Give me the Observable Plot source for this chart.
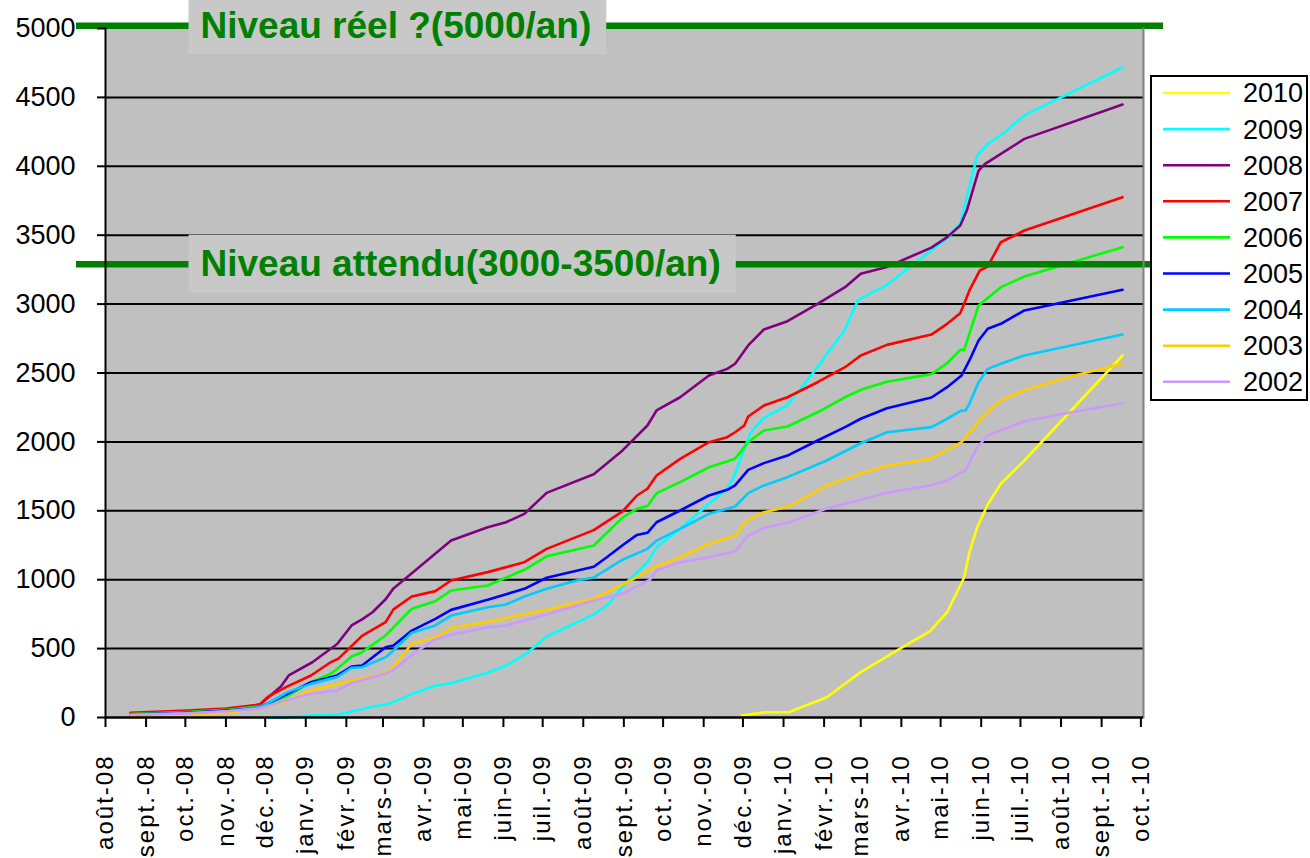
<!DOCTYPE html>
<html><head><meta charset="utf-8">
<script src="https://cdn.jsdelivr.net/npm/d3@7"></script>
<script src="https://cdn.jsdelivr.net/npm/@observablehq/plot@0.6"></script>
<style>
body{margin:0;background:#fff;font-family:"Liberation Sans",Arial,sans-serif;}
#wrap{position:relative;width:1310px;height:858px;overflow:hidden;}
#legend{position:absolute;left:1150px;top:75px;width:158px;height:326px;border:2px solid #000;box-sizing:border-box;background:#fff;}
</style></head><body><div id="wrap"><div id="legend"></div></div>
<script>
// ---- data ----
const startDate = new Date(Date.UTC(2008, 7, 1));   // day 0 of the series' day offsets
const endDate = new Date(Date.UTC(2010, 9, 3));
const years = ["2010","2009","2008","2007","2006","2005","2004","2003","2002"];
const colors = ["#ffff00","#00ffff","#800080","#ff0000","#00ff00","#0000ff","#00ccff","#ffcc00","#cc99ff"];
const monthLabels = ["août-08","sept.-08","oct.-08","nov.-08","déc.-08","janv.-09","févr.-09","mars-09","avr.-09","mai-09","juin-09","juil.-09","août-09","sept.-09","oct.-09","nov.-09","déc.-09","janv.-10","févr.-10","mars-10","avr.-10","mai-10","juin-10","juil.-10","août-10","sept.-10","oct.-10"];
const yTicks = [0,500,1000,1500,2000,2500,3000,3500,4000,4500,5000];
const gridValues = [500,1000,1500,2000,2500,3000,3500,4000,4500];
const levelValues = [5020, 3290];
const levelLabels = ["Niveau réel ?(5000/an)", "Niveau attendu(3000-3500/an)"];

// [days since 2008-08-01, cumulative value]
const s2010 = [[486,15],[504,38],[522,38],[551,147],[577,329],[607,499],[630,626],[643,764],[653,958],[656,1018],[660,1200],[666,1381],[674,1546],[684,1696],[702,1865],[777,2627]];
const s2009 = [[124,0],[136,0],[157,15],[177,20],[187,40],[202,75],[218,104],[234,170],[252,230],[264,249],[292,325],[306,377],[322,467],[337,588],[373,747],[384,820],[395,951],[401,1007],[414,1127],[421,1236],[439,1369],[461,1551],[475,1660],[480,1744],[488,1950],[493,2070],[503,2174],[521,2264],[541,2506],[565,2816],[575,3031],[597,3140],[631,3390],[644,3486],[653,3582],[658,3776],[666,4078],[674,4163],[684,4224],[702,4369],[777,4719]];
const s2008 = [[19,22],[62,35],[92,50],[118,95],[134,225],[140,305],[158,401],[177,533],[188,668],[196,712],[204,764],[214,858],[220,937],[234,1047],[264,1284],[292,1381],[306,1417],[320,1478],[337,1630],[373,1765],[395,1938],[414,2119],[421,2228],[439,2324],[461,2482],[475,2530],[481,2567],[491,2700],[503,2816],[521,2876],[544,3002],[565,3123],[577,3220],[597,3270],[631,3410],[643,3486],[653,3570],[658,3679],[667,3969],[672,4018],[702,4199],[777,4448]];
const s2007 = [[19,34],[62,50],[92,65],[118,94],[124,150],[139,226],[157,305],[172,401],[178,427],[196,592],[214,692],[220,785],[234,878],[252,917],[264,994],[292,1055],[320,1127],[337,1224],[373,1360],[395,1496],[406,1611],[414,1660],[421,1756],[439,1877],[461,1998],[475,2034],[481,2070],[488,2119],[491,2184],[503,2264],[521,2324],[544,2433],[565,2542],[577,2627],[597,2704],[631,2779],[643,2857],[653,2934],[657,3026],[660,3099],[668,3244],[674,3273],[684,3449],[702,3534],[777,3776]];
const s2006 = [[19,25],[62,40],[92,55],[118,80],[124,100],[139,155],[157,256],[172,317],[178,361],[188,443],[196,474],[214,595],[234,789],[252,844],[264,922],[292,958],[320,1072],[337,1170],[373,1248],[395,1450],[406,1514],[414,1535],[421,1628],[439,1708],[461,1816],[481,1877],[488,1962],[491,1998],[503,2083],[521,2112],[544,2215],[565,2324],[577,2378],[597,2436],[631,2492],[643,2571],[653,2668],[656,2668],[667,2990],[684,3123],[702,3200],[777,3413]];
const s2005 = [[19,22],[62,35],[92,50],[111,63],[121,87],[139,172],[157,256],[177,305],[188,370],[196,377],[214,510],[220,522],[234,631],[252,716],[264,781],[292,854],[320,934],[337,1014],[373,1094],[383,1163],[395,1250],[406,1325],[414,1340],[421,1417],[439,1502],[461,1611],[475,1652],[481,1684],[491,1797],[503,1846],[521,1901],[544,2010],[565,2107],[577,2168],[597,2244],[631,2322],[643,2397],[654,2482],[660,2591],[667,2736],[674,2821],[684,2857],[702,2954],[777,3104]];
const s2004 = [[19,18],[62,30],[92,45],[111,63],[121,87],[139,184],[157,244],[177,293],[188,361],[196,365],[214,438],[220,486],[234,615],[252,668],[264,740],[292,800],[306,820],[320,878],[337,934],[360,994],[373,1016],[395,1145],[414,1224],[421,1284],[439,1369],[461,1478],[481,1531],[491,1628],[503,1684],[521,1744],[551,1865],[577,1990],[597,2070],[631,2107],[643,2168],[654,2228],[657,2228],[660,2276],[667,2433],[674,2530],[684,2567],[702,2627],[777,2779]];
const s2003 = [[19,0],[62,15],[92,35],[118,63],[138,120],[157,196],[177,239],[187,265],[208,305],[219,346],[220,365],[234,537],[252,580],[265,653],[292,692],[306,722],[337,781],[373,861],[401,994],[421,1096],[439,1163],[461,1261],[481,1321],[490,1430],[503,1490],[522,1531],[551,1684],[577,1769],[596,1825],[630,1877],[654,1998],[671,2191],[684,2300],[702,2375],[737,2475],[777,2567]];
const s2002 = [[19,20],[62,30],[92,45],[118,63],[135,118],[157,172],[177,196],[188,250],[214,317],[220,346],[236,468],[251,562],[264,600],[292,655],[306,668],[337,747],[373,849],[395,898],[406,951],[416,1000],[421,1067],[439,1127],[461,1163],[481,1207],[491,1321],[503,1375],[522,1417],[551,1516],[577,1581],[596,1630],[630,1684],[643,1720],[654,1780],[657,1792],[666,1962],[674,2046],[702,2150],[732,2204],[777,2281]];

const seriesList = [s2010,s2009,s2008,s2007,s2006,s2005,s2004,s2003,s2002];
const rows = seriesList.flatMap((s, k) => s.map(([d, v]) => ({year: years[k], date: d3.utcDay.offset(startDate, d), value: v})));

const monthTicks = d3.utcMonth.range(startDate, d3.utcDay.offset(endDate, 1));
const labelByTime = new Map(monthTicks.map((d, i) => [+d, monthLabels[i]]));
const levels = levelValues.map((v, i) => ({value: v, label: levelLabels[i]}));

const chart = Plot.plot({
  width: 1310, height: 858,
  marginLeft: 105, marginRight: 167, marginTop: 28, marginBottom: 141,
  style: {fontFamily: '"Liberation Sans", Arial, sans-serif', background: "#fff", color: "#000"},
  x: {type: "utc", domain: [startDate, endDate], label: null},
  y: {domain: [0, 5000], label: null},
  color: {domain: years, range: colors},
  marks: [
    Plot.frame({fill: "#c0c0c0", stroke: null}),
    Plot.ruleY(gridValues, {stroke: "#000", strokeWidth: 2}),
    Plot.line(rows, {x: "date", y: "value", z: "year", stroke: "year", strokeWidth: 2.6}),
    Plot.ruleY(levels, {y: "value", stroke: "#008000", strokeWidth: 6.5, insetLeft: -29, insetRight: -20}),
    Plot.text(levels, {y: "value", text: "label", frameAnchor: "left", dx: 95, textAnchor: "start", fontSize: 37, fontWeight: "bold", fill: "#008000", className: "lvl"}),
    Plot.frame({anchor: "right", stroke: "#808080", strokeWidth: 2}),
    Plot.frame({anchor: "left", stroke: "#000", strokeWidth: 2}),
    Plot.ruleY([0], {stroke: "#000", strokeWidth: 2.5}),
    Plot.axisY({ticks: yTicks, tickSize: 8, tickPadding: 22, fontSize: 27, tickFormat: d => String(d), strokeWidth: 2}),
    Plot.axisX({ticks: monthTicks, tickFormat: d => labelByTime.get(+d), tickRotate: -90, tickSize: 10, tickPadding: 27, fontSize: 24, strokeWidth: 2})
  ]
});
document.getElementById("wrap").prepend(chart);

// grey label boxes behind the level texts
const svgBox = chart.getBoundingClientRect();
const yScale = chart.scale("y");
const lvlGroup = chart.querySelector("g.lvl");
const boxLayer = d3.select(lvlGroup.parentNode).insert("g", () => lvlGroup);
d3.select(lvlGroup).selectAll("text").each(function(_, i) {
  const r = this.getBoundingClientRect();
  const cy = yScale.apply(levelValues[i]);
  boxLayer.append("rect")
    .attr("x", r.left - svgBox.left - 12).attr("y", cy - 29)
    .attr("width", r.width + 27).attr("height", 58)
    .attr("fill", "#c8c8c8");
});
d3.select(chart).selectAll('[aria-label="x-axis tick label"] text').style("letter-spacing", "2px");

// legend
const lg = d3.select("#legend").append("svg").attr("width", 154).attr("height", 322)
  .style("font-family", '"Liberation Sans", Arial, sans-serif');
years.forEach((y, i) => {
  const cy = 16 + i * 36.1;
  lg.append("line").attr("x1", 11).attr("x2", 78).attr("y1", cy).attr("y2", cy)
    .attr("stroke", colors[i]).attr("stroke-width", 2.6);
  lg.append("text").attr("x", 91).attr("y", cy).attr("dy", "0.35em")
    .attr("font-size", 27).attr("fill", "#000").text(y);
});
</script>
</body></html>
